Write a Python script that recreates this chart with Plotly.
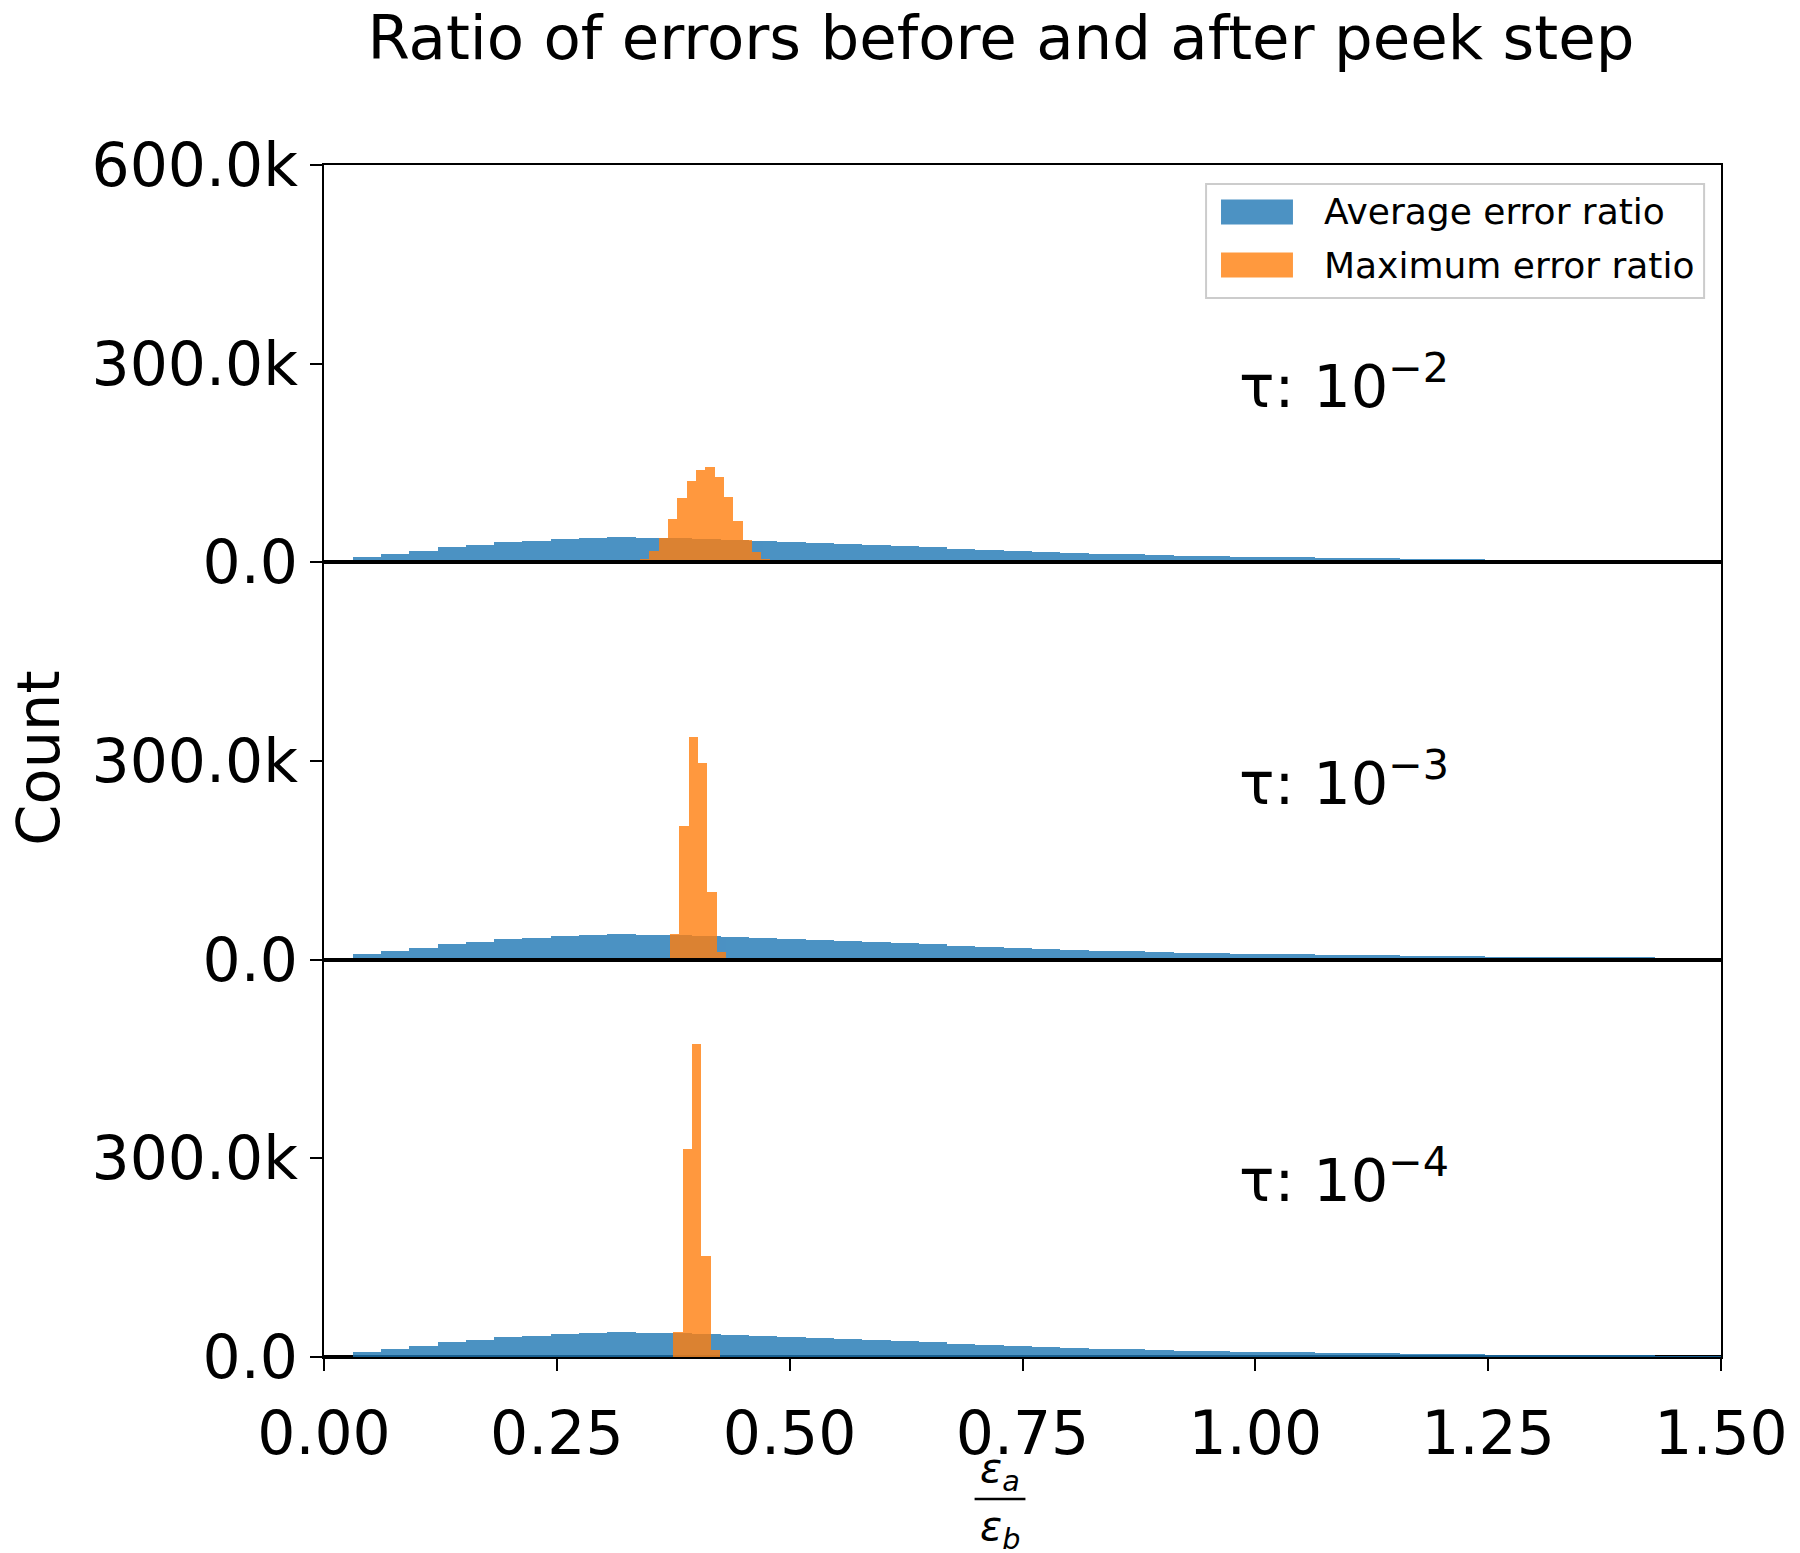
"""Ratio of errors before and after the peek step, one histogram panel per tau."""
import numpy as np
import plotly.graph_objects as go
from plotly.subplots import make_subplots

FONT = "DejaVu Sans"

# ---- data (counts per bin) ----
tau_labels = ["τ: 10<sup>−2</sup>", "τ: 10<sup>−3</sup>", "τ: 10<sup>−4</sup>"]

# average error ratio: same broad histogram in every panel
avg_bin_start = 0.0307
avg_bin_width = 0.0304
avg_counts = [
    7500, 12600, 17600, 22700, 26700, 30200, 32700, 35300, 36800, 37800,
    37500, 37000, 35500, 34000, 32500, 30500, 29300, 27800, 26300, 24500,
    22500, 20500, 18800, 17200, 15800, 14500, 13300, 12200, 11200, 10300,
    9500, 8800, 8100, 7500, 6900, 6300, 5800, 5300, 4900, 4500,
    4100, 3800, 3500, 3200, 3000, 2800, 2600, 2400, 2200,
]

# maximum error ratio: narrow peak, sharper as tau shrinks
max_bin_width = 0.01
max_bin_start = [0.3394, 0.3715, 0.375]
max_counts = [
    [4800, 17400, 37500, 65000, 97000, 123000, 139000, 144000,
     129000, 99000, 63000, 34000, 16000, 4800],
    [37800, 201000, 335000, 297000, 102000, 11500],
    [39000, 314000, 473000, 153000, 10600],
]

y_tickvals = [0, 300000, 600000]
y_ticktext = ["0.0", "300.0k", "600.0k"]
x_tickvals = [0.0, 0.25, 0.5, 0.75, 1.0, 1.25, 1.5]
x_ticktext = ["0.00", "0.25", "0.50", "0.75", "1.00", "1.25", "1.50"]

BLUE = "#1f77b4"
ORANGE = "#ff7f0e"

# page body has an 8px default margin, so the figure is 8px smaller each way
W, H = 1792, 1545


def centers(start, width, n):
    return start + width * (np.arange(n) + 0.5)


fig = make_subplots(rows=3, cols=1, shared_xaxes=True, vertical_spacing=0)

for i in range(3):
    row = i + 1
    fig.add_trace(go.Bar(
        x=centers(avg_bin_start, avg_bin_width, len(avg_counts)), y=avg_counts,
        width=avg_bin_width, marker=dict(color=BLUE, line=dict(width=0)),
        opacity=0.8, name="Average error ratio", showlegend=False,
    ), row=row, col=1)
    fig.add_trace(go.Bar(
        x=centers(max_bin_start[i], max_bin_width, len(max_counts[i])), y=max_counts[i],
        width=max_bin_width, marker=dict(color=ORANGE, line=dict(width=0)),
        opacity=0.8, name="Maximum error ratio", showlegend=False,
    ), row=row, col=1)

    yref = "y" if i == 0 else f"y{row}"
    fig.add_annotation(x=0.98, y=272000, xref="x" if i == 0 else f"x{row}", yref=yref,
                       text=tau_labels[i], showarrow=False, xanchor="left", yanchor="middle",
                       font=dict(family=FONT, size=59, color="black"))

    fig.update_yaxes(
        row=row, col=1, range=[0, 600000],
        tickvals=y_tickvals if i == 0 else y_tickvals[:2],
        ticktext=y_ticktext if i == 0 else y_ticktext[:2],
        ticks="outside", ticklen=12, tickwidth=2, tickcolor="black",
        showline=True, linecolor="black", linewidth=2, mirror=True,
        showgrid=False, zeroline=True, zerolinecolor="black", zerolinewidth=3,
        tickfont=dict(family=FONT, size=60, color="black"),
    )
    fig.update_xaxes(
        row=row, col=1, range=[0, 1.5],
        tickvals=x_tickvals, ticktext=x_ticktext,
        ticks="outside" if row == 3 else "", ticklen=12, tickwidth=2, tickcolor="black",
        showticklabels=(row == 3), ticklabelstandoff=11,
        showline=True, linecolor="black", linewidth=2, mirror=True, showgrid=False,
        tickfont=dict(family=FONT, size=60, color="black"),
    )

# ---- hand-drawn legend (matplotlib style wide patches) ----
legend_items = [("Average error ratio", BLUE), ("Maximum error ratio", ORANGE)]
fig.add_shape(type="rect", xref="paper", yref="paper", x0=0.6314, x1=0.9879, y0=0.8884, y1=0.984,
              line=dict(color="#cccccc", width=2), fillcolor="rgba(255,255,255,0.8)", layer="above")
for k, (label, col) in enumerate(legend_items):
    yc = [0.9606, 0.9161][k]
    fig.add_shape(type="rect", xref="paper", yref="paper", x0=0.6421, x1=0.6936,
                  y0=yc - 0.0105, y1=yc + 0.0105, line=dict(width=0),
                  fillcolor=col, opacity=0.8, layer="above")
    fig.add_annotation(x=0.7143, y=yc, xref="paper", yref="paper", text=label, showarrow=False,
                       xanchor="left", yanchor="middle",
                       font=dict(family=FONT, size=36, color="black"))

# ---- axis titles ----
fig.add_annotation(x=-0.205, y=0.5025, xref="paper", yref="paper", text="Count",
                   textangle=-90, showarrow=False, xanchor="center", yanchor="middle",
                   font=dict(family=FONT, size=59, color="black"))
# fraction eps_a / eps_b
fig.add_annotation(x=0.4836, y=-0.0960, xref="paper", yref="paper",
                   text="<i>ε</i><sub><i>a</i></sub>", showarrow=False,
                   xanchor="center", yanchor="middle",
                   font=dict(family=FONT, size=41, color="black"))
fig.add_annotation(x=0.4836, y=-0.1440, xref="paper", yref="paper",
                   text="<i>ε</i><sub><i>b</i></sub>", showarrow=False,
                   xanchor="center", yanchor="middle",
                   font=dict(family=FONT, size=41, color="black"))
fig.add_shape(type="line", xref="paper", yref="paper", x0=0.4657, x1=0.5021,
              y0=-0.1191, y1=-0.1191, line=dict(color="black", width=2.5))

fig.update_layout(
    width=W, height=H,
    margin=dict(l=316, r=76, t=157, b=196),
    barmode="overlay", bargap=0,
    plot_bgcolor="white", paper_bgcolor="white",
    title=dict(text="Ratio of errors before and after peek step",
               x=993 / W, xref="container", xanchor="center",
               y=1 - 30 / H, yref="container", yanchor="middle",
               font=dict(family=FONT, size=61, color="black")),
    showlegend=False,
)

fig.write_html("out.html")
